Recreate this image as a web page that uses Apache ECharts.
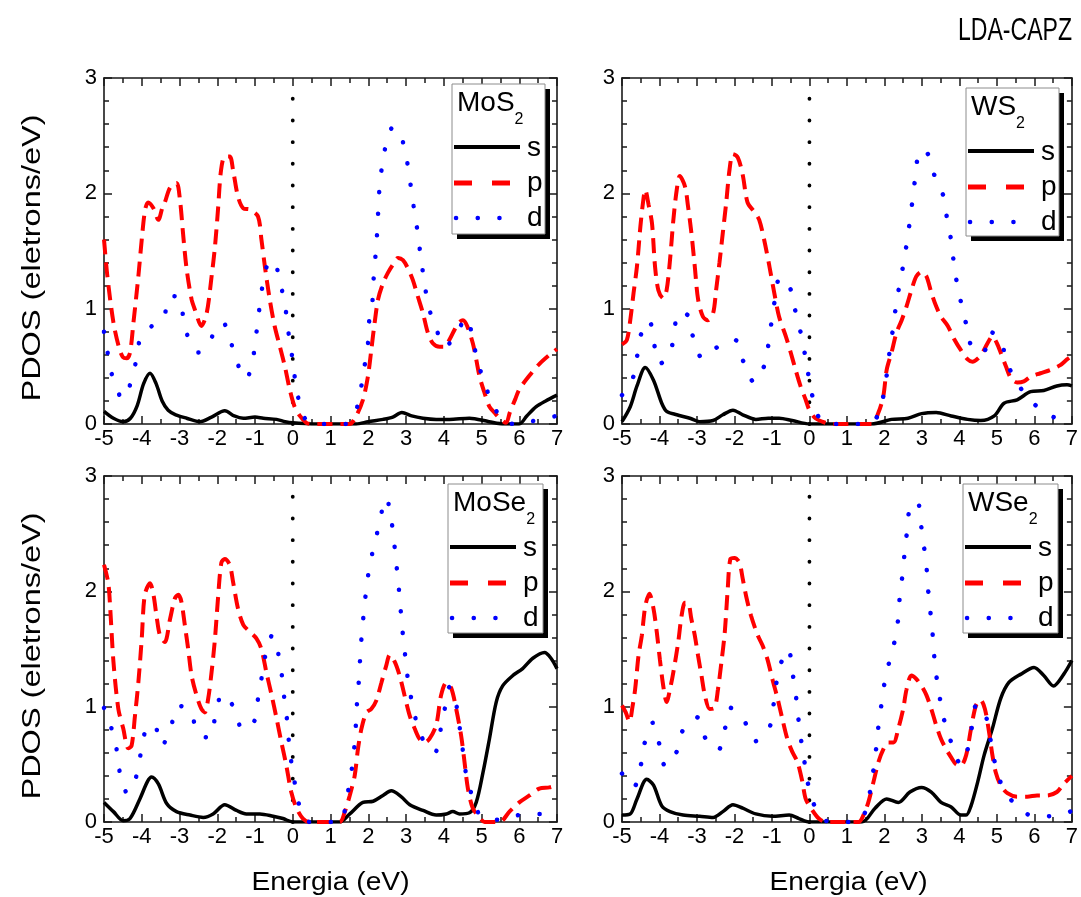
<!DOCTYPE html>
<html>
<head>
<meta charset="utf-8">
<script src="https://cdn.jsdelivr.net/npm/echarts@6/dist/echarts.min.js"></script>
<style>
html,body{margin:0;padding:0;background:#fff;}
#chart{width:1081px;height:897px;}
</style>
</head>
<body>
<div id="chart"></div>
<script>
// ---------------- data ----------------
const panelTitles = [['MoS','2'], ['WS','2'], ['MoSe','2'], ['WSe','2']];
const seriesNames = ['s', 'p', 'd'];
const xTitle = 'Energia (eV)';
const yTitle = 'PDOS (eletrons/eV)';
const mainTitle = 'LDA-CAPZ';
const fermiLine = [[0, 0], [0, 2.83]];

const mos2_s = [[-5,0.11],[-4.75,0.05],[-4.49,0.02],[-4.3,0.05],[-4.12,0.16],[-3.95,0.35],[-3.78,0.44],[-3.62,0.35],[-3.46,0.2],[-3.3,0.12],[-3.1,0.08],[-2.81,0.05],[-2.46,0.02],[-2.15,0.06],[-1.8,0.115],[-1.55,0.07],[-1.31,0.05],[-1.0,0.06],[-0.78,0.05],[-0.43,0.04],[-0.2,0.02],[0,0.01],[0.5,0],[1.2,0],[1.68,0],[2.0,0.02],[2.39,0.04],[2.65,0.06],[2.89,0.1],[3.15,0.07],[3.45,0.05],[3.8,0.04],[4.15,0.04],[4.68,0.05],[5.2,0.02],[5.6,0],[6.0,0],[6.2,0.07],[6.45,0.15],[6.7,0.2],[7,0.25]];
const mos2_p = [[-5,1.6],[-4.91,1.28],[-4.75,0.88],[-4.6,0.66],[-4.5,0.58],[-4.4,0.57],[-4.31,0.62],[-4.22,0.88],[-4.09,1.28],[-4.0,1.6],[-3.91,1.86],[-3.83,1.92],[-3.69,1.87],[-3.56,1.77],[-3.45,1.88],[-3.39,1.92],[-3.25,2.05],[-3.08,2.09],[-2.99,1.95],[-2.9,1.63],[-2.81,1.34],[-2.68,1.08],[-2.59,0.99],[-2.42,0.85],[-2.28,0.96],[-2.15,1.28],[-2.06,1.54],[-1.98,1.86],[-1.9,2.2],[-1.8,2.32],[-1.67,2.32],[-1.58,2.2],[-1.45,1.97],[-1.31,1.87],[-1.14,1.86],[-0.92,1.8],[-0.83,1.6],[-0.74,1.37],[-0.61,1.08],[-0.48,0.85],[-0.34,0.67],[-0.21,0.5],[-0.08,0.3],[0.05,0.15],[0.19,0.07],[0.36,0.01],[0.5,0],[1.5,0],[1.68,0.07],[1.86,0.21],[1.99,0.41],[2.08,0.64],[2.17,0.88],[2.26,1.08],[2.39,1.22],[2.52,1.31],[2.65,1.38],[2.79,1.44],[2.92,1.42],[3.05,1.35],[3.18,1.25],[3.31,1.11],[3.45,0.96],[3.58,0.79],[3.71,0.7],[3.89,0.67],[4.02,0.67],[4.15,0.73],[4.29,0.82],[4.4,0.88],[4.51,0.9],[4.62,0.85],[4.77,0.7],[4.86,0.56],[4.95,0.41],[5.08,0.27],[5.21,0.15],[5.34,0.1],[5.48,0.05],[5.65,0.01],[5.75,0.1],[5.9,0.22],[6.0,0.3],[6.27,0.42],[6.53,0.52],[6.8,0.6],[7,0.65]];
const mos2_d = [[-5,0.8],[-4.91,0.63],[-4.8,0.44],[-4.59,0.25],[-4.45,0.22],[-4.28,0.38],[-4.14,0.56],[-4.03,0.75],[-3.73,0.85],[-3.42,0.92],[-3.27,1.11],[-3.02,1.1],[-2.89,0.91],[-2.74,0.72],[-2.5,0.62],[-2.29,0.67],[-1.98,0.85],[-1.85,0.88],[-1.67,0.75],[-1.51,0.56],[-1.23,0.39],[-1.05,0.58],[-0.97,0.77],[-0.9,0.96],[-0.83,1.14],[-0.72,1.33],[-0.6,1.42],[-0.47,1.4],[-0.32,1.21],[-0.2,1.02],[-0.13,0.83],[-0.04,0.64],[0.03,0.46],[0.12,0.27],[0.27,0.08],[0.5,0],[1.4,0],[1.68,0.12],[1.9,0.5],[1.99,0.69],[2.02,0.88],[2.11,1.06],[2.14,1.25],[2.19,1.45],[2.23,1.63],[2.26,1.82],[2.29,2.01],[2.35,2.2],[2.44,2.38],[2.65,2.57],[2.81,2.55],[2.98,2.36],[3.08,2.17],[3.16,1.98],[3.25,1.79],[3.33,1.61],[3.4,1.42],[3.49,1.23],[3.58,1.04],[3.76,0.86],[4.05,0.67],[4.33,0.79],[4.61,0.92],[4.77,0.73],[4.9,0.54],[5.08,0.36],[5.3,0.17],[5.7,0],[6.27,0.02],[6.84,0.06],[7,0.07]];

const ws2_s = [[-5,0.02],[-4.78,0.15],[-4.6,0.33],[-4.38,0.49],[-4.16,0.38],[-3.94,0.18],[-3.81,0.11],[-3.54,0.08],[-3.19,0.05],[-2.93,0.02],[-2.57,0.03],[-2.31,0.08],[-2.04,0.12],[-1.78,0.08],[-1.43,0.04],[-1.1,0.05],[-0.81,0.05],[-0.46,0.03],[0,0],[1.66,0],[2.19,0.04],[2.63,0.05],[2.99,0.09],[3.38,0.1],[3.78,0.07],[4.22,0.04],[4.57,0.03],[4.93,0.07],[5.19,0.18],[5.54,0.21],[5.9,0.28],[6.25,0.29],[6.6,0.33],[6.87,0.34],[7,0.33]];
const ws2_p = [[-5,0.69],[-4.87,0.73],[-4.78,0.9],[-4.69,1.14],[-4.6,1.37],[-4.51,1.71],[-4.44,1.92],[-4.38,2.03],[-4.29,1.9],[-4.2,1.74],[-4.12,1.37],[-4.03,1.16],[-3.9,1.09],[-3.81,1.16],[-3.72,1.42],[-3.63,1.77],[-3.54,2.03],[-3.46,2.15],[-3.32,2.06],[-3.24,1.89],[-3.15,1.66],[-3.06,1.37],[-2.97,1.08],[-2.84,0.93],[-2.71,0.9],[-2.57,0.96],[-2.49,1.16],[-2.4,1.4],[-2.31,1.66],[-2.22,1.92],[-2.13,2.21],[-2.04,2.34],[-1.91,2.31],[-1.78,2.16],[-1.65,1.92],[-1.47,1.84],[-1.34,1.77],[-1.21,1.6],[-1.07,1.37],[-0.94,1.14],[-0.81,0.93],[-0.63,0.76],[-0.5,0.62],[-0.37,0.47],[-0.24,0.33],[-0.1,0.21],[0,0.12],[0.16,0.05],[0.43,0.01],[0.6,0],[1.66,0],[1.84,0.1],[1.97,0.24],[2.06,0.47],[2.19,0.62],[2.32,0.79],[2.46,0.9],[2.59,1.02],[2.72,1.16],[2.85,1.28],[2.99,1.32],[3.12,1.28],[3.25,1.14],[3.38,1.02],[3.51,0.93],[3.69,0.85],[3.87,0.73],[4.04,0.64],[4.22,0.56],[4.35,0.54],[4.5,0.57],[4.62,0.62],[4.75,0.7],[4.88,0.76],[5.0,0.7],[5.1,0.62],[5.24,0.5],[5.37,0.4],[5.54,0.36],[5.72,0.37],[5.9,0.41],[6.16,0.44],[6.43,0.47],[6.69,0.51],[6.87,0.56],[7,0.59]];
const ws2_d = [[-5,0.25],[-4.72,0.39],[-4.6,0.58],[-4.5,0.77],[-4.28,0.9],[-4.0,0.52],[-3.74,0.59],[-3.61,0.78],[-3.5,0.97],[-3.24,0.94],[-3.1,0.75],[-2.85,0.57],[-2.4,0.68],[-1.99,0.73],[-1.76,0.54],[-1.47,0.36],[-1.2,0.51],[-1.09,0.7],[-1.01,0.89],[-0.92,1.08],[-0.79,1.27],[-0.52,1.18],[-0.39,1.0],[-0.24,0.8],[-0.13,0.62],[-0.03,0.43],[0.08,0.24],[0.26,0.05],[0.5,0],[1.6,0],[1.86,0.1],[1.99,0.28],[2.08,0.47],[2.15,0.66],[2.24,0.85],[2.31,1.03],[2.41,1.22],[2.52,1.41],[2.61,1.6],[2.69,1.79],[2.76,1.97],[2.83,2.16],[2.91,2.35],[3.03,2.38],[3.16,2.34],[3.34,2.15],[3.58,1.97],[3.67,1.78],[3.78,1.59],[3.85,1.4],[3.94,1.21],[4.06,1.03],[4.2,0.84],[4.35,0.65],[4.64,0.62],[4.82,0.8],[5.1,0.73],[5.26,0.54],[5.53,0.36],[5.97,0.18],[6.51,0.06],[7,0.02]];

const mose2_s = [[-5,0.17],[-4.75,0.09],[-4.49,0.01],[-4.31,0.03],[-4.05,0.2],[-3.85,0.35],[-3.74,0.39],[-3.56,0.33],[-3.34,0.16],[-3.08,0.09],[-2.72,0.06],[-2.37,0.04],[-2.11,0.07],[-1.8,0.15],[-1.49,0.1],[-1.23,0.07],[-0.87,0.07],[-0.52,0.05],[-0.26,0.03],[0,0],[1.24,0],[1.51,0.07],[1.86,0.17],[2.13,0.18],[2.39,0.23],[2.61,0.27],[2.87,0.22],[3.1,0.15],[3.45,0.1],[3.8,0.06],[4.07,0.07],[4.24,0.09],[4.42,0.07],[4.68,0.08],[4.86,0.17],[5.04,0.43],[5.21,0.72],[5.39,1.04],[5.56,1.18],[5.83,1.27],[6.09,1.33],[6.36,1.42],[6.67,1.47],[6.84,1.42],[7,1.33]];
const mose2_p = [[-5,2.23],[-4.89,2.08],[-4.84,1.88],[-4.75,1.39],[-4.62,0.98],[-4.49,0.81],[-4.36,0.64],[-4.27,0.66],[-4.18,0.92],[-4.09,1.21],[-4.0,1.59],[-3.92,1.97],[-3.78,2.07],[-3.69,1.97],[-3.61,1.79],[-3.52,1.62],[-3.39,1.56],[-3.25,1.76],[-3.12,1.94],[-3.03,1.97],[-2.95,1.91],[-2.86,1.71],[-2.77,1.5],[-2.68,1.27],[-2.55,1.1],[-2.42,0.98],[-2.33,0.95],[-2.24,1.07],[-2.15,1.3],[-2.06,1.59],[-1.98,1.94],[-1.89,2.25],[-1.8,2.28],[-1.67,2.23],[-1.58,2.08],[-1.45,1.85],[-1.31,1.71],[-1.14,1.65],[-0.96,1.59],[-0.83,1.5],[-0.7,1.3],[-0.56,1.1],[-0.43,0.9],[-0.3,0.69],[-0.17,0.49],[-0.04,0.26],[0.1,0.12],[0.27,0.03],[0.45,0],[1.24,0],[1.38,0.09],[1.51,0.23],[1.64,0.4],[1.73,0.64],[1.82,0.81],[1.95,0.95],[2.08,0.98],[2.21,1.05],[2.35,1.21],[2.48,1.36],[2.57,1.45],[2.7,1.39],[2.83,1.27],[2.96,1.1],[3.1,0.92],[3.23,0.81],[3.36,0.72],[3.49,0.69],[3.62,0.72],[3.8,0.84],[3.93,1.1],[4.07,1.21],[4.2,1.16],[4.33,0.98],[4.46,0.75],[4.55,0.52],[4.64,0.29],[4.77,0.12],[4.95,0.04],[5.08,0],[5.48,0],[5.74,0.09],[6.0,0.17],[6.27,0.23],[6.53,0.29],[6.8,0.3],[7,0.32]];
const mose2_d = [[-5,0.99],[-4.8,0.81],[-4.66,0.62],[-4.58,0.43],[-4.38,0.25],[-4.14,0.4],[-4.03,0.59],[-3.92,0.77],[-3.68,0.85],[-3.47,0.66],[-3.23,0.82],[-3.05,1.01],[-2.7,0.96],[-2.53,0.77],[-2.2,0.73],[-2.05,0.92],[-1.87,1.11],[-1.55,0.99],[-1.33,0.8],[-1.01,0.88],[-0.92,1.07],[-0.82,1.26],[-0.72,1.45],[-0.54,1.62],[-0.37,1.44],[-0.28,1.25],[-0.22,1.06],[-0.15,0.88],[-0.1,0.69],[-0.03,0.5],[0.07,0.31],[0.2,0.12],[0.45,0],[1.25,0],[1.42,0.2],[1.53,0.38],[1.6,0.56],[1.66,0.75],[1.68,0.94],[1.73,1.13],[1.77,1.32],[1.8,1.51],[1.85,1.7],[1.9,1.88],[1.97,2.07],[2.05,2.25],[2.2,2.45],[2.32,2.64],[2.48,2.81],[2.61,2.62],[2.68,2.44],[2.74,2.25],[2.8,2.06],[2.85,1.87],[2.9,1.68],[2.96,1.5],[3.02,1.31],[3.11,1.12],[3.23,0.93],[3.39,0.75],[3.76,0.6],[3.91,0.79],[4.02,0.97],[4.15,1.17],[4.35,0.99],[4.43,0.8],[4.51,0.61],[4.59,0.42],[4.74,0.24],[4.99,0.05],[5.56,0.02],[6.14,0.07],[6.69,0.07],[7,0.08]];

const wse2_s = [[-5,0.06],[-4.78,0.07],[-4.6,0.2],[-4.34,0.37],[-4.16,0.32],[-3.94,0.14],[-3.72,0.09],[-3.37,0.06],[-2.93,0.05],[-2.57,0.04],[-2.31,0.09],[-2.04,0.15],[-1.78,0.12],[-1.43,0.07],[-0.99,0.05],[-0.54,0.06],[-0.28,0.03],[0,0],[1.4,0],[1.75,0.12],[2.06,0.2],[2.37,0.17],[2.68,0.26],[2.99,0.3],[3.25,0.26],[3.51,0.17],[3.78,0.13],[4.04,0.06],[4.18,0.06],[4.31,0.14],[4.49,0.35],[4.66,0.58],[4.88,0.81],[5.1,1.07],[5.32,1.21],[5.63,1.28],[5.99,1.34],[6.25,1.27],[6.51,1.18],[6.78,1.28],[7,1.4]];
const wse2_p = [[-5,1.01],[-4.9,0.95],[-4.8,0.87],[-4.72,1.0],[-4.65,1.15],[-4.56,1.44],[-4.47,1.62],[-4.38,1.87],[-4.27,1.98],[-4.16,1.85],[-4.07,1.64],[-3.99,1.41],[-3.9,1.18],[-3.81,1.04],[-3.72,1.15],[-3.63,1.3],[-3.5,1.56],[-3.41,1.79],[-3.32,1.9],[-3.24,1.9],[-3.15,1.76],[-3.06,1.62],[-2.97,1.44],[-2.88,1.27],[-2.79,1.1],[-2.66,0.98],[-2.53,0.99],[-2.44,1.15],[-2.35,1.38],[-2.26,1.64],[-2.18,2.02],[-2.11,2.28],[-2.0,2.29],[-1.87,2.25],[-1.78,2.11],[-1.69,1.96],[-1.56,1.79],[-1.38,1.62],[-1.25,1.53],[-1.12,1.41],[-0.99,1.24],[-0.85,1.07],[-0.72,0.89],[-0.59,0.72],[-0.46,0.61],[-0.32,0.52],[-0.19,0.35],[-0.1,0.2],[0.04,0.12],[0.25,0.03],[0.45,0],[1.31,0],[1.44,0.06],[1.57,0.17],[1.71,0.35],[1.84,0.52],[1.97,0.63],[2.1,0.69],[2.24,0.69],[2.37,0.81],[2.5,0.98],[2.59,1.15],[2.72,1.27],[2.85,1.24],[2.99,1.18],[3.12,1.1],[3.25,0.98],[3.38,0.84],[3.51,0.72],[3.65,0.63],[3.78,0.56],[3.91,0.5],[4.04,0.49],[4.18,0.58],[4.31,0.81],[4.44,1.01],[4.56,1.06],[4.68,0.98],[4.79,0.78],[4.88,0.58],[4.97,0.43],[5.1,0.32],[5.28,0.25],[5.54,0.22],[5.81,0.22],[6.07,0.23],[6.34,0.23],[6.6,0.26],[6.78,0.33],[7,0.4]];
const wse2_d = [[-5,0.42],[-4.69,0.3],[-4.5,0.49],[-4.4,0.68],[-4.18,0.86],[-4.0,0.67],[-3.84,0.48],[-3.54,0.61],[-3.37,0.8],[-3.01,0.91],[-2.78,0.73],[-2.44,0.62],[-2.26,0.8],[-2.11,0.99],[-1.76,0.89],[-1.45,0.7],[-1.09,0.8],[-0.97,0.99],[-0.9,1.17],[-0.78,1.36],[-0.56,1.5],[-0.46,1.31],[-0.37,1.12],[-0.31,0.94],[-0.24,0.75],[-0.15,0.56],[-0.06,0.37],[0.07,0.19],[0.43,0.01],[1.3,0],[1.49,0.09],[1.62,0.27],[1.71,0.46],[1.78,0.64],[1.84,0.83],[1.92,1.02],[2.0,1.2],[2.13,1.39],[2.28,1.58],[2.37,1.77],[2.41,1.96],[2.48,2.14],[2.54,2.34],[2.61,2.54],[2.68,2.72],[2.88,2.78],[2.97,2.59],[3.05,2.4],[3.12,2.22],[3.16,2.03],[3.22,1.84],[3.28,1.65],[3.32,1.47],[3.38,1.28],[3.47,1.09],[3.58,0.9],[3.75,0.72],[3.96,0.53],[4.08,0.5],[4.22,0.63],[4.33,0.82],[4.46,1.02],[4.66,0.97],[4.79,0.78],[4.9,0.59],[5.03,0.4],[5.31,0.22],[5.79,0.07],[6.34,0.05],[6.95,0.09],[7,0.1]];

const panelData = [[mos2_s, mos2_p, mos2_d], [ws2_s, ws2_p, ws2_d], [mose2_s, mose2_p, mose2_d], [wse2_s, wse2_p, wse2_d]];

// ---------------- layout / style ----------------
const FONT = '"Liberation Sans", Arial, Helvetica, sans-serif';
const gridPos = [
  {left:104, top:78}, {left:622, top:78},
  {left:104, top:476}, {left:622, top:476}
];
const GW = 453, GH = 346;
const legendPos = [[452,84,93,150],[966,88,93,148],[448,484,95,149],[963,484,95,149]];

const lineStyles = [
  {color:'#000000', width:3.5, type:'solid'},
  {color:'#ff0000', width:4, type:[15,8]},
  {color:'#0000ff', width:4.5, type:[0.1,21.5], cap:'round'}
];
const fermiStyle = {color:'#000000', width:3.8, type:[0.1,21.58], cap:'round'};

const ctx = document.createElement('canvas').getContext('2d');
function measure(text, font){ ctx.font = font; return ctx.measureText(text).width; }

const AX = '#1a1a1a';
const axisLine = {show:true, onZero:false, lineStyle:{color:AX, width:1.6}};
const grids = [], xAxes = [], yAxes = [], series = [], graphics = [];

gridPos.forEach((g, i) => {
  grids.push({left:g.left, top:g.top, width:GW, height:GH, containLabel:false});
  const tick = {show:true, inside:true, length:8, lineStyle:{color:AX, width:1.5}};
  const mtX = {show:true, splitNumber:2, length:5, lineStyle:{color:AX, width:1.5}};
  const mtY = {show:true, splitNumber:5, length:5, lineStyle:{color:AX, width:1.5}};
  xAxes.push({type:'value', gridIndex:i, min:-5, max:7, interval:1, position:'bottom',
    axisLine, axisTick:tick, minorTick:mtX, splitLine:{show:false}, minorSplitLine:{show:false},
    axisLabel:{show:true, color:'#000', fontFamily:FONT, fontSize:22, margin:4}});
  xAxes.push({type:'value', gridIndex:i, min:-5, max:7, interval:1, position:'top',
    axisLine, axisTick:tick, minorTick:mtX, splitLine:{show:false}, axisLabel:{show:false}});
  yAxes.push({type:'value', gridIndex:i, min:0, max:3, interval:1, position:'left',
    axisLine, axisTick:tick, minorTick:mtY, splitLine:{show:false}, minorSplitLine:{show:false},
    axisLabel:{show:true, color:'#000', fontFamily:FONT, fontSize:22, margin:7}});
  yAxes.push({type:'value', gridIndex:i, min:0, max:3, interval:1, position:'right',
    axisLine, axisTick:tick, minorTick:mtY, splitLine:{show:false}, axisLabel:{show:false}});

  series.push({type:'line', name:'EF', data:fermiLine, xAxisIndex:2*i, yAxisIndex:2*i,
    symbol:'none', lineStyle:fermiStyle, silent:true, animation:false});
  panelData[i].forEach((d, k) => {
    series.push({type:'line', name:seriesNames[k], data:d, xAxisIndex:2*i, yAxisIndex:2*i,
      symbol:'none', smooth:0.3, lineStyle:lineStyles[k], silent:true, animation:false, clip:true});
  });

  // inset legend box, as in the original
  const [bx, by, bw, bh] = legendPos[i];
  const titleFont = '28px ' + FONT;
  const tw = measure(panelTitles[i][0], titleFont);
  graphics.push(
    {type:'rect', shape:{x:bx+5, y:by+5, width:bw, height:bh}, style:{fill:'#000'}, z:100},
    {type:'rect', shape:{x:bx, y:by, width:bw, height:bh}, style:{fill:'#fff', stroke:'#8c8c8c', lineWidth:1}, z:101},
    {type:'text', x:bx+5, y:by+19, z:102, style:{text:panelTitles[i][0], font:titleFont, fill:'#000', align:'left', verticalAlign:'middle'}},
    {type:'text', x:bx+5+tw, y:by+36, z:102, style:{text:panelTitles[i][1], font:'16px ' + FONT, fill:'#000', align:'left', verticalAlign:'middle'}},
    {type:'line', z:102, shape:{x1:bx+2, y1:by+63, x2:bx+68, y2:by+63}, style:{stroke:'#000', lineWidth:4}},
    {type:'line', z:102, shape:{x1:bx+2, y1:by+99, x2:bx+68, y2:by+99}, style:{stroke:'#ff0000', lineWidth:5, lineDash:[18,20]}},
    {type:'line', z:102, shape:{x1:bx+4, y1:by+134, x2:bx+52, y2:by+134}, style:{stroke:'#0000ff', lineWidth:4.5, lineDash:[0.1,21.6], lineCap:'round'}}
  );
  [[seriesNames[0], 64],[seriesNames[1], 99],[seriesNames[2], 134]].forEach(([t, dy]) => {
    graphics.push({type:'text', x:bx+75, y:by+dy, z:102, style:{text:t, font:'28px ' + FONT, fill:'#000', align:'left', verticalAlign:'middle'}});
  });
});

// axis titles (lettering stretched slightly along the text, as in the original)
(function(){
  const xf = '26px ' + FONT;
  const sx = 158 / measure(xTitle, xf);
  [330.5, 848.5].forEach(cx => {
    graphics.push({type:'text', x:cx, y:883, scaleX:sx, z:50, style:{text:xTitle, font:xf, fill:'#000', align:'center', verticalAlign:'middle'}});
  });
  const yf = '26px ' + FONT;
  const sy = 287 / measure(yTitle, yf);
  [258, 656].forEach(cy => {
    graphics.push({type:'text', x:33, y:cy, rotation:Math.PI/2, scaleX:sy, z:50, style:{text:yTitle, font:yf, fill:'#000', align:'center', verticalAlign:'middle'}});
  });
  const tf = '32px ' + FONT;
  const st = 114 / measure(mainTitle, tf);
  graphics.push({type:'text', x:1072, y:31, scaleX:st, z:50, style:{text:mainTitle, font:tf, fill:'#000', align:'right', verticalAlign:'middle'}});
})();

const chart = echarts.init(document.getElementById('chart'), null, {renderer:'canvas'});
chart.setOption({
  animation:false,
  backgroundColor:'#ffffff',
  grid:grids, xAxis:xAxes, yAxis:yAxes, series:series,
  graphic:{elements:graphics}
});
</script>
</body>
</html>
